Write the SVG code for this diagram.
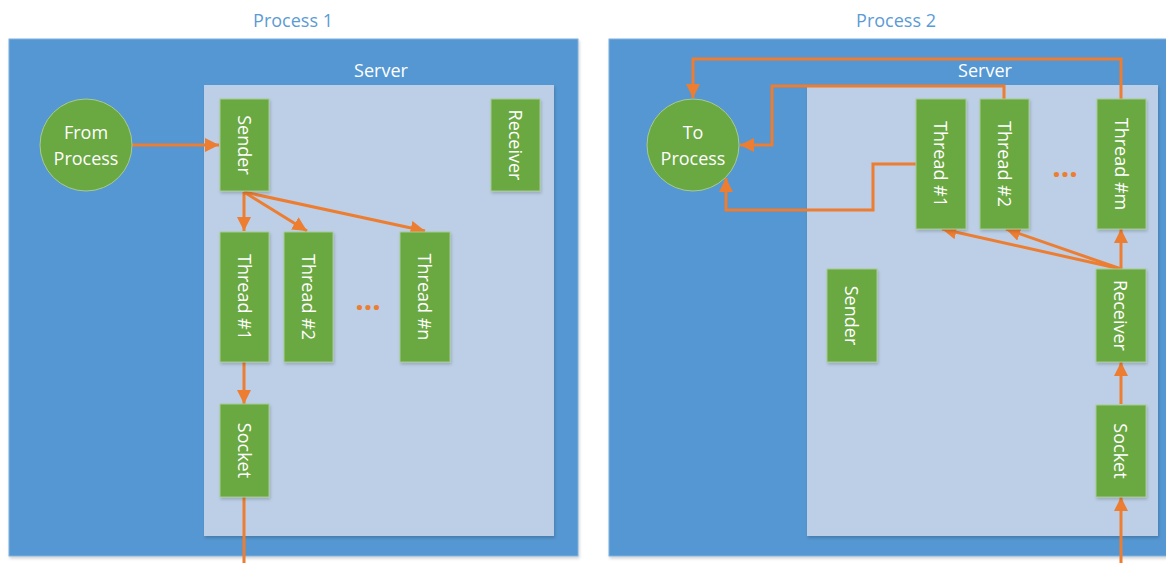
<svg xmlns="http://www.w3.org/2000/svg" width="1166" height="563" viewBox="0 0 1166 563">
<style>
.title{font-family:"Open Sans","Noto Sans",sans-serif;font-size:18px;fill:#5B9BD5;text-anchor:middle}
.lbl{font-family:"Open Sans","Noto Sans",sans-serif;font-size:18px;fill:#fff;text-anchor:middle;dominant-baseline:central}
.outer{fill:#5497D2;stroke:#7FB0DE;stroke-width:1}
.inner{fill:#BCCFE6}
.node{fill:#6AA842;stroke:#A7CB92;stroke-width:1}
.conn{fill:none;stroke:#ED7D31;stroke-width:3}
.dots{font-family:"Open Sans","Noto Sans",sans-serif;font-size:30px;font-weight:bold;fill:#ED7D31;text-anchor:middle}
</style>
<defs>
<marker id="ah" viewBox="0 0 10 10" refX="10" refY="5" markerWidth="4.8" markerHeight="4.8" orient="auto" markerUnits="strokeWidth">
<path d="M0,0 L10,5 L0,10 z" fill="#ED7D31"/>
</marker>
<filter id="sh" x="-10%" y="-10%" width="130%" height="130%">
<feDropShadow dx="1" dy="2" stdDeviation="1.5" flood-color="#000" flood-opacity="0.18"/>
</filter>
</defs>

<g id="process1">
<text class="title" x="293" y="27">Process 1</text>
<rect class="outer" x="9" y="39" width="569" height="517" filter="url(#sh)"/>
<text class="lbl" x="381" y="70">Server</text>
<rect class="inner" x="204" y="85" width="350" height="451" filter="url(#sh)"/>
</g>
<g id="process2">
<text class="title" x="896" y="27">Process 2</text>
<rect class="outer" x="609" y="39" width="562" height="517" filter="url(#sh)"/>
<text class="lbl" x="985" y="70">Server</text>
<rect class="inner" x="807" y="85" width="351" height="451" filter="url(#sh)"/>
</g>

<g id="connectors">
<line class="conn" x1="132" y1="145" x2="219" y2="145" marker-end="url(#ah)"/>
<line class="conn" x1="244" y1="192" x2="244" y2="231" marker-end="url(#ah)"/>
<line class="conn" x1="244" y1="192" x2="307" y2="231" marker-end="url(#ah)"/>
<line class="conn" x1="244" y1="192" x2="425" y2="231" marker-end="url(#ah)"/>
<line class="conn" x1="244" y1="362" x2="244" y2="404" marker-end="url(#ah)"/>
<line class="conn" x1="244" y1="497" x2="244" y2="563"/>
<polyline class="conn" points="1121,99 1121,59 693,59 693,98" marker-end="url(#ah)"/>
<polyline class="conn" points="1004,99 1004,86 772,86 772,145 740,145" marker-end="url(#ah)"/>
<polyline class="conn" points="916,164 873,164 873,210 726,210 726,178" marker-end="url(#ah)"/>
<line class="conn" x1="1121" y1="269" x2="942" y2="229" marker-end="url(#ah)"/>
<line class="conn" x1="1121" y1="269" x2="1006" y2="229" marker-end="url(#ah)"/>
<line class="conn" x1="1121" y1="269" x2="1121" y2="229" marker-end="url(#ah)"/>
<line class="conn" x1="1121" y1="404" x2="1121" y2="362" marker-end="url(#ah)"/>
<line class="conn" x1="1121" y1="563" x2="1121" y2="497" marker-end="url(#ah)"/>
</g>

<g id="from-process">
<circle cx="86" cy="145" r="46" fill="#6AA842" stroke="#A7CB92" stroke-width="1"/>
<text class="lbl" x="86" y="132">From</text>
<text class="lbl" x="86" y="158">Process</text>
</g>
<g id="p1-sender"><rect class="node" x="220" y="99" width="49" height="92" filter="url(#sh)"/><text class="lbl" transform="translate(244.5,145) rotate(90)">Sender</text></g>
<g id="p1-receiver"><rect class="node" x="491" y="99" width="49" height="92" filter="url(#sh)"/><text class="lbl" transform="translate(515.5,145) rotate(90)">Receiver</text></g>
<g id="p1-thread1"><rect class="node" x="220" y="232" width="49" height="130" filter="url(#sh)"/><text class="lbl" transform="translate(244.5,297) rotate(90)">Thread #1</text></g>
<g id="p1-thread2"><rect class="node" x="284" y="232" width="49" height="130" filter="url(#sh)"/><text class="lbl" transform="translate(308.5,297) rotate(90)">Thread #2</text></g>
<g id="p1-threadn"><rect class="node" x="400" y="232" width="50" height="130" filter="url(#sh)"/><text class="lbl" transform="translate(425,297) rotate(90)">Thread #n</text></g>
<text class="dots" x="368" y="310">...</text>
<g id="p1-socket"><rect class="node" x="220" y="404" width="49" height="93" filter="url(#sh)"/><text class="lbl" transform="translate(244.5,450.5) rotate(90)">Socket</text></g>

<g id="to-process">
<circle cx="693" cy="145" r="46" fill="#6AA842" stroke="#A7CB92" stroke-width="1"/>
<text class="lbl" x="693" y="132">To</text>
<text class="lbl" x="693" y="158">Process</text>
</g>
<g id="p2-thread1"><rect class="node" x="916" y="99" width="50" height="130" filter="url(#sh)"/><text class="lbl" transform="translate(941,164) rotate(90)">Thread #1</text></g>
<g id="p2-thread2"><rect class="node" x="980" y="99" width="49" height="130" filter="url(#sh)"/><text class="lbl" transform="translate(1004.5,164) rotate(90)">Thread #2</text></g>
<g id="p2-threadm"><rect class="node" x="1097" y="99" width="49" height="130" filter="url(#sh)"/><text class="lbl" transform="translate(1121.5,164) rotate(90)">Thread #m</text></g>
<text class="dots" x="1065" y="177">...</text>
<g id="p2-sender"><rect class="node" x="827" y="269" width="50" height="93" filter="url(#sh)"/><text class="lbl" transform="translate(852,315.5) rotate(90)">Sender</text></g>
<g id="p2-receiver"><rect class="node" x="1096" y="269" width="50" height="93" filter="url(#sh)"/><text class="lbl" transform="translate(1121,315.5) rotate(90)">Receiver</text></g>
<g id="p2-socket"><rect class="node" x="1096" y="405" width="50" height="92" filter="url(#sh)"/><text class="lbl" transform="translate(1121,451) rotate(90)">Socket</text></g>
</svg>
